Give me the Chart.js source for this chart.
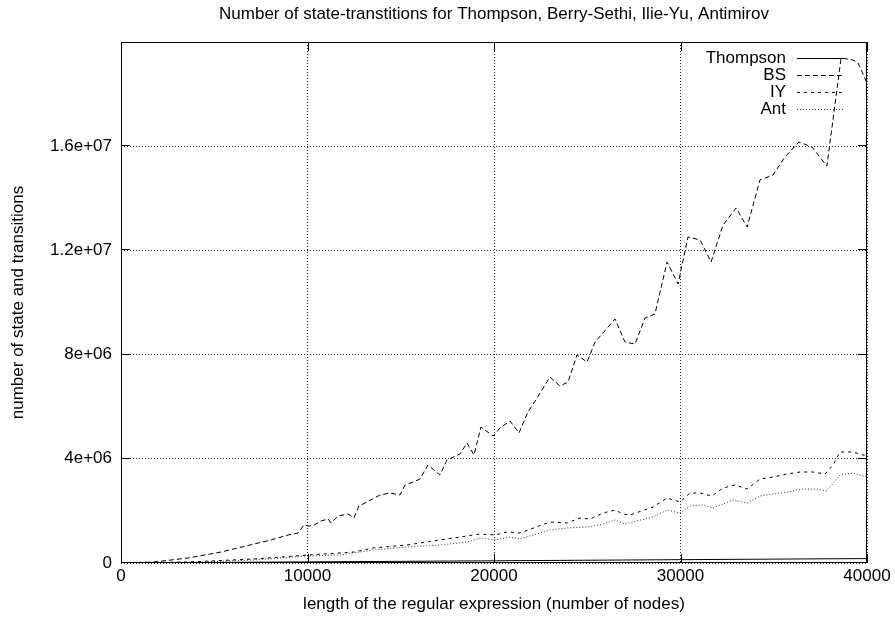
<!DOCTYPE html>
<html>
<head>
<meta charset="utf-8">
<script src="https://cdn.jsdelivr.net/npm/chart.js@4/dist/chart.umd.min.js"></script>
<style>
  html, body { margin: 0; padding: 0; background: #fff; }
  #wrap { width: 895px; height: 621px; }
</style>
</head>
<body>
<div id="wrap"><canvas id="c" width="895" height="621"></canvas></div>
<script>
// ---- data ----
const titleText = "Number of state-transtitions for Thompson, Berry-Sethi, Ilie-Yu, Antimirov";
const xTitle = "length of the regular expression (number of nodes)";
const yTitle = "number of state and transitions";
const seriesNames = ["Thompson", "BS", "IY", "Ant"];

const xTickValues = [0, 10000, 20000, 30000, 40000];
const xTickLabels = ["0", "10000", "20000", "30000", "40000"];
const yTickValues = [0, 4000000, 8000000, 12000000, 16000000];
const yTickLabels = ["0", "4e+06", "8e+06", "1.2e+07", "1.6e+07"];

const thompsonX = [0, 10000, 20000, 30000, 40000];
const thompsonY = [0, 42000, 85000, 128000, 170000];

const bsX = [0,1770,3590,5360,6270,7130,8040,8960,9490,9810,10080,10350,10720,11100,11260,11640,12170,12490,12760,13190,13890,14420,14960,15230,15660,16030,16460,17100,17480,18180,18550,18930,19300,19950,20320,20860,21340,21820,22310,23000,23540,23970,24450,24990,25420,26490,27020,27560,28100,28630,29280,29870,30400,31050,31640,32280,32980,33570,34260,34960,35600,36350,37050,37850,38610,39250,39520,40000];
const bsY = [0,38000,192000,422000,576000,729000,883000,1075000,1152000,1459000,1420000,1459000,1612000,1689000,1536000,1804000,1881000,1727000,2188000,2342000,2610000,2687000,2610000,2994000,3109000,3225000,3762000,3378000,3954000,4184000,4607000,4146000,5221000,4875000,5182000,5451000,4990000,5797000,6334000,7140000,6795000,6948000,7985000,7716000,8484000,9367000,8484000,8407000,9405000,9559000,11555000,10710000,12514000,12399000,11555000,12975000,13628000,12898000,14703000,14895000,15586000,16161000,15969000,15240000,19386000,19309000,19194000,18426000];

const iyX = [0,3590,7130,10030,11740,12490,13510,15340,17100,19250,20050,20700,21390,23000,23920,24610,25150,25850,26490,26920,27290,28530,29280,29970,30510,31050,31690,32280,32920,33570,34260,34960,35710,36410,37100,37750,38180,38550,39250,39790,40000];
const iyY = [0,38000,154000,307000,384000,422000,576000,691000,883000,1113000,1075000,1190000,1152000,1574000,1536000,1727000,1689000,1919000,2035000,1881000,1843000,2150000,2495000,2342000,2687000,2687000,2572000,2879000,2994000,2841000,3225000,3301000,3417000,3493000,3493000,3417000,3762000,4261000,4261000,4146000,4108000];

const antX = [0,3590,7130,10030,11740,13510,15340,17100,18550,19250,20050,20860,21390,23000,23920,25040,25850,26490,27000,28530,29280,29970,30510,31210,31740,32820,33570,34260,35710,36570,37320,37850,38550,39250,39790,40000];
const antY = [0,20000,115000,269000,307000,499000,614000,691000,806000,960000,883000,998000,921000,1267000,1344000,1382000,1497000,1651000,1500000,1766000,2035000,1919000,2188000,2226000,2111000,2419000,2303000,2572000,2726000,2841000,2841000,2764000,3378000,3455000,3340000,3301000];

// ---- chart ----
const FAMILY = "'Liberation Sans', Arial, Helvetica, sans-serif";
const FSIZE = 17;
const pts = (xs, ys) => xs.map((x, i) => ({ x: x, y: ys[i] }));

const boxPlugin = {
  id: 'gpBox',
  afterLayout(chart) {
    // gnuplot centres the title over the plot area
    const t = chart.titleBlock;
    if (t) { t.left = chart.chartArea.left; t.right = chart.chartArea.right; }
  },
  afterDraw(chart) {
    const { ctx, chartArea: a, scales } = chart;
    ctx.save();
    ctx.strokeStyle = '#000';
    ctx.lineWidth = 1;
    ctx.setLineDash([]);
    // inward tics (mirrored)
    ctx.beginPath();
    yTickValues.forEach(v => {
      const y = Math.round(scales.y.getPixelForValue(v)) - 0.5;
      ctx.moveTo(a.left, y); ctx.lineTo(a.left + 9, y);
      ctx.moveTo(a.right, y); ctx.lineTo(a.right - 9, y);
    });
    xTickValues.forEach(v => {
      const x = Math.round(scales.x.getPixelForValue(v)) + 0.5;
      ctx.moveTo(x, a.bottom); ctx.lineTo(x, a.bottom - 9);
      ctx.moveTo(x, a.top); ctx.lineTo(x, a.top + 9);
    });
    ctx.stroke();
    // border
    ctx.strokeRect(Math.round(a.left) + 0.5, Math.round(a.top) + 0.5,
                   Math.round(a.right - a.left) - 1, Math.round(a.bottom - a.top) - 1);
    // key (gnuplot style)
    ctx.font = FSIZE + 'px ' + FAMILY;
    ctx.textAlign = 'right';
    ctx.textBaseline = 'middle';
    chart.data.datasets.forEach((ds, i) => {
      const y = Math.round(a.top + 16 + i * 17) + 0.5;
      ctx.fillStyle = '#000';
      ctx.fillText(ds.label, a.right - 81, y);
      ctx.strokeStyle = ds.borderColor;
      ctx.setLineDash(ds.borderDash || []);
      ctx.beginPath();
      ctx.moveTo(a.right - 70, y);
      ctx.lineTo(a.right - 22, y);
      ctx.stroke();
    });
    ctx.restore();
  }
};

const font = { family: FAMILY, size: FSIZE, weight: 'normal' };

new Chart(document.getElementById('c'), {
  type: 'line',
  data: {
    datasets: [
      { label: seriesNames[0], data: pts(thompsonX, thompsonY), borderColor: '#000', borderWidth: 1, borderDash: [] },
      { label: seriesNames[1], data: pts(bsX, bsY), borderColor: '#000', borderWidth: 1, borderDash: [5, 3] },
      { label: seriesNames[2], data: pts(iyX, iyY), borderColor: '#000', borderWidth: 1, borderDash: [3, 4] },
      { label: seriesNames[3], data: pts(antX, antY), borderColor: '#333', borderWidth: 1, borderDash: [1, 2] }
    ]
  },
  options: {
    responsive: false,
    animation: false,
    events: [],
    elements: { point: { radius: 0 }, line: { tension: 0 } },
    layout: { padding: { left: 0, right: 28, top: 0, bottom: 0 } },
    plugins: {
      legend: { display: false },
      tooltip: { enabled: false },
      title: {
        display: true, text: titleText, color: '#000', font: font,
        padding: { top: 4.5, bottom: 17.1 }
      }
    },
    scales: {
      x: {
        type: 'linear', min: 0, max: 40000,
        afterBuildTicks(s) { s.ticks = xTickValues.map(v => ({ value: v })); },
        ticks: {
          color: '#000', font: font, padding: 3.5, maxRotation: 0, autoSkip: false,
          callback(v) { const i = xTickValues.indexOf(v); return i >= 0 ? xTickLabels[i] : null; }
        },
        grid: { color: 'rgba(0,0,0,0.85)', lineWidth: 1, drawTicks: false },
        border: { display: false, dash: [1, 2] },
        title: { display: true, text: xTitle, color: '#000', font: font, padding: { top: 0, bottom: 6.8 } },
        afterFit(s) { s.height = 58; }
      },
      y: {
        type: 'linear', min: 0, max: 20000000,
        afterBuildTicks(s) { s.ticks = yTickValues.map(v => ({ value: v })); },
        ticks: {
          color: '#000', font: font, padding: 9, autoSkip: false,
          callback(v) { const i = yTickValues.indexOf(v); return i >= 0 ? yTickLabels[i] : null; }
        },
        grid: { color: 'rgba(0,0,0,0.85)', lineWidth: 1, drawTicks: false },
        border: { display: false, dash: [1, 2] },
        title: { display: true, text: yTitle, color: '#000', font: font, padding: { top: 7.8, bottom: 0 } },
        afterFit(s) { s.width = 121; }
      }
    }
  },
  plugins: [boxPlugin]
});
</script>
</body>
</html>
